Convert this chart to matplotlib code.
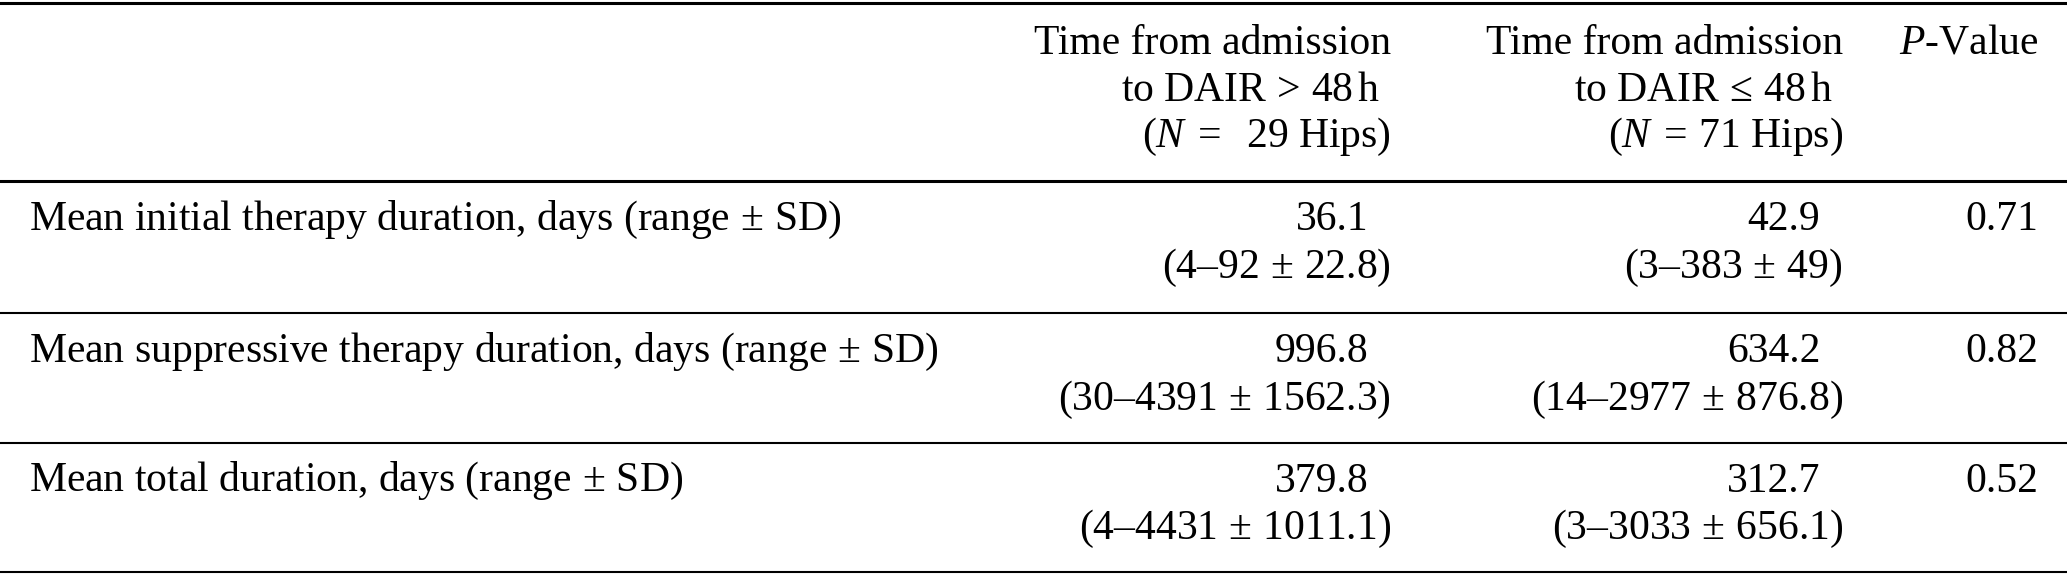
import matplotlib
matplotlib.use("Agg")
import matplotlib.pyplot as plt

# table content
header_1 = ["Time from admission", "to DAIR$\\,>\\,$48$\\,$h", "($N\\;=\\;$ 29 Hips)"]
header_2 = ["Time from admission", "to DAIR$\\,\\leq\\,$48$\\,$h", "($N\\;=\\,$71 Hips)"]
header_p = "$P$-Value"

row_labels = [
    "Mean initial therapy duration, days (range$\\,\\pm\\,$SD)",
    "Mean suppressive therapy duration, days (range$\\,\\pm\\,$SD)",
    "Mean total duration, days (range$\\,\\pm\\,$SD)",
]
late_mean = ["36.1", "996.8", "379.8"]
late_range = ["(4–92$\\,\\pm\\,$22.8)", "(30–4391$\\,\\pm\\,$1562.3)", "(4–4431$\\,\\pm\\,$1011.1)"]
early_mean = ["42.9", "634.2", "312.7"]
early_range = ["(3–383$\\,\\pm\\,$49)", "(14–2977$\\,\\pm\\,$876.8)", "(3–3033$\\,\\pm\\,$656.1)"]
p_values = ["0.71", "0.82", "0.52"]

plt.rcParams["font.family"] = ["Liberation Serif", "DejaVu Serif"]
plt.rcParams["mathtext.fontset"] = "custom"
plt.rcParams["mathtext.rm"] = "Liberation Serif"
plt.rcParams["mathtext.it"] = "Liberation Serif:italic"

fig = plt.figure(figsize=(20.67, 5.75), dpi=100)
ax = fig.add_axes([0, 0, 1, 1])
ax.set_xlim(0, 1568)
ax.set_ylim(436, 0)
ax.axis("off")

fs = 30
x_lab = 22
x_c1 = 1055
x_c2 = 1398
x_p = 1546

# rules
ax.axhline(2, color="black", lw=2.2)
ax.axhline(137, color="black", lw=2.2)
for y in [237, 336, 434]:
    ax.axhline(y, color="black", lw=1.5)

# header
shift = [0, -8, 0]
for i, y in enumerate([33, 69, 104]):
    ax.text(x_c1 + shift[i], y, header_1[i], fontsize=fs, ha="right", va="center")
    ax.text(x_c2 + shift[i], y, header_2[i], fontsize=fs, ha="right", va="center")
ax.text(x_p, 33, header_p, fontsize=fs, ha="right", va="center")

# body
row_y = [167, 267, 365]
for i, y in enumerate(row_y):
    ax.text(x_lab, y, row_labels[i], fontsize=fs, ha="left", va="center")
    ax.text(x_c1 - 17, y, late_mean[i], fontsize=fs, ha="right", va="center")
    ax.text(x_c1, y + 36, late_range[i], fontsize=fs, ha="right", va="center")
    ax.text(x_c2 - 17, y, early_mean[i], fontsize=fs, ha="right", va="center")
    ax.text(x_c2, y + 36, early_range[i], fontsize=fs, ha="right", va="center")
    ax.text(x_p, y, p_values[i], fontsize=fs, ha="right", va="center")

fig.savefig("out.png", dpi=100)
